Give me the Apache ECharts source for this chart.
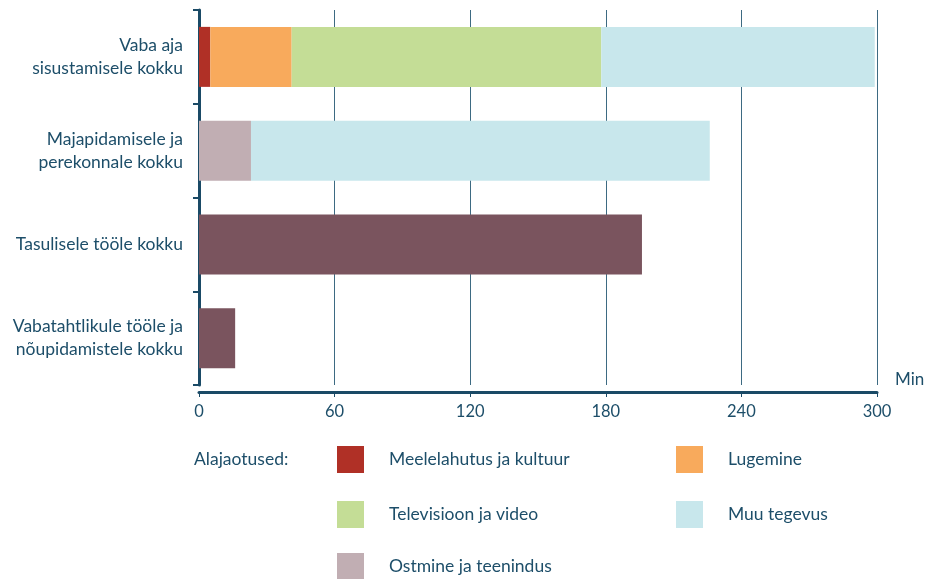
<!DOCTYPE html>
<html>
<head>
<meta charset="UTF-8">
<title>Ajakasutus</title>
<script type="text/javascript" src="https://cdn.jsdelivr.net/npm/echarts@6/dist/echarts.min.js"></script>
<style>
  html, body { margin: 0; padding: 0; background: #fff; }
  #main { width: 929px; height: 579px; }
</style>
</head>
<body>
<div id="main"></div>
<script type="text/javascript">
var categories = ['Vaba aja\nsisustamisele kokku', 'Majapidamisele ja\nperekonnale kokku', 'Tasulisele tööle kokku', 'Vabatahtlikule tööle ja\nnõupidamistele kokku'];
var xTicks = [0, 60, 120, 180, 240, 300];

// minutid
var meelelahutus = [5, null, null, null];
var lugemine = [36, null, null, null];
var televisioon = [137, null, null, null];
var ostmine = [null, 23, null, null];
var muu = [121, 203, null, null];
var too = [null, null, 196, 16];

var textColor = '#1d4e69';
var font = 'Lato';

var myChart = echarts.init(document.getElementById('main'));

function bar(name, data, color) {
	return {
		name: name,
		type: 'bar',
		stack: 'kokku',
		data: data,
		barWidth: 60,
		itemStyle: { color: color },
		emphasis: { disabled: true }
	};
}

function legendAt(name, left, top) {
	return {
		data: [name],
		left: left,
		top: top,
		icon: 'rect',
		itemWidth: 27,
		itemHeight: 27,
		selectedMode: false,
		textStyle: { color: textColor, fontFamily: font, fontSize: 17.5, padding: [0, 0, 0, 20] }
	};
}

var option = {
	animation: false,
	grid: { left: 199, right: 52, top: 10, bottom: 194 },
	legend: [
		legendAt('Meelelahutus ja kultuur', 332, 441),
		legendAt('Lugemine', 671, 441),
		legendAt('Televisioon ja video', 332, 496),
		legendAt('Muu tegevus', 671, 496),
		legendAt('Ostmine ja teenindus', 332, 548)
	],
	xAxis: {
		type: 'value',
		min: xTicks[0],
		max: xTicks[xTicks.length - 1],
		interval: 60,
		offset: 7,
		axisLine: { show: true, lineStyle: { color: '#1a4a66', width: 3 } },
		axisTick: { show: true, length: 5, lineStyle: { color: '#1a4a66', width: 1 } },
		axisLabel: { color: textColor, fontFamily: font, fontSize: 16.5, margin: 11 },
		splitLine: { show: true, lineStyle: { color: '#3d6a82', width: 1 } }
	},
	yAxis: {
		type: 'category',
		data: categories,
		inverse: true,
		offset: 8,
		axisLine: { show: true, lineStyle: { color: '#1a4a66', width: 3 } },
		axisTick: { show: true, length: 6, lineStyle: { color: '#1a4a66', width: 2 } },
		axisLabel: { color: textColor, fontFamily: font, fontSize: 17.5, lineHeight: 23, margin: 8, align: 'right' }
	},
	graphic: [
		{ type: 'text', left: 194, top: 450, style: { text: 'Alajaotused:', fill: textColor, font: '17.5px ' + font } },
		{ type: 'text', left: 895, top: 371, style: { text: 'Min', fill: textColor, font: '17px ' + font } }
	],
	series: [
		bar('Meelelahutus ja kultuur', meelelahutus, '#b03026'),
		bar('Lugemine', lugemine, '#f8aa5c'),
		bar('Televisioon ja video', televisioon, '#c4dd96'),
		bar('Ostmine ja teenindus', ostmine, '#c1aeb3'),
		bar('Muu tegevus', muu, '#c8e7ec'),
		bar('Töö', too, '#7a545e')
	]
};
myChart.setOption(option);
</script>
</body>
</html>
